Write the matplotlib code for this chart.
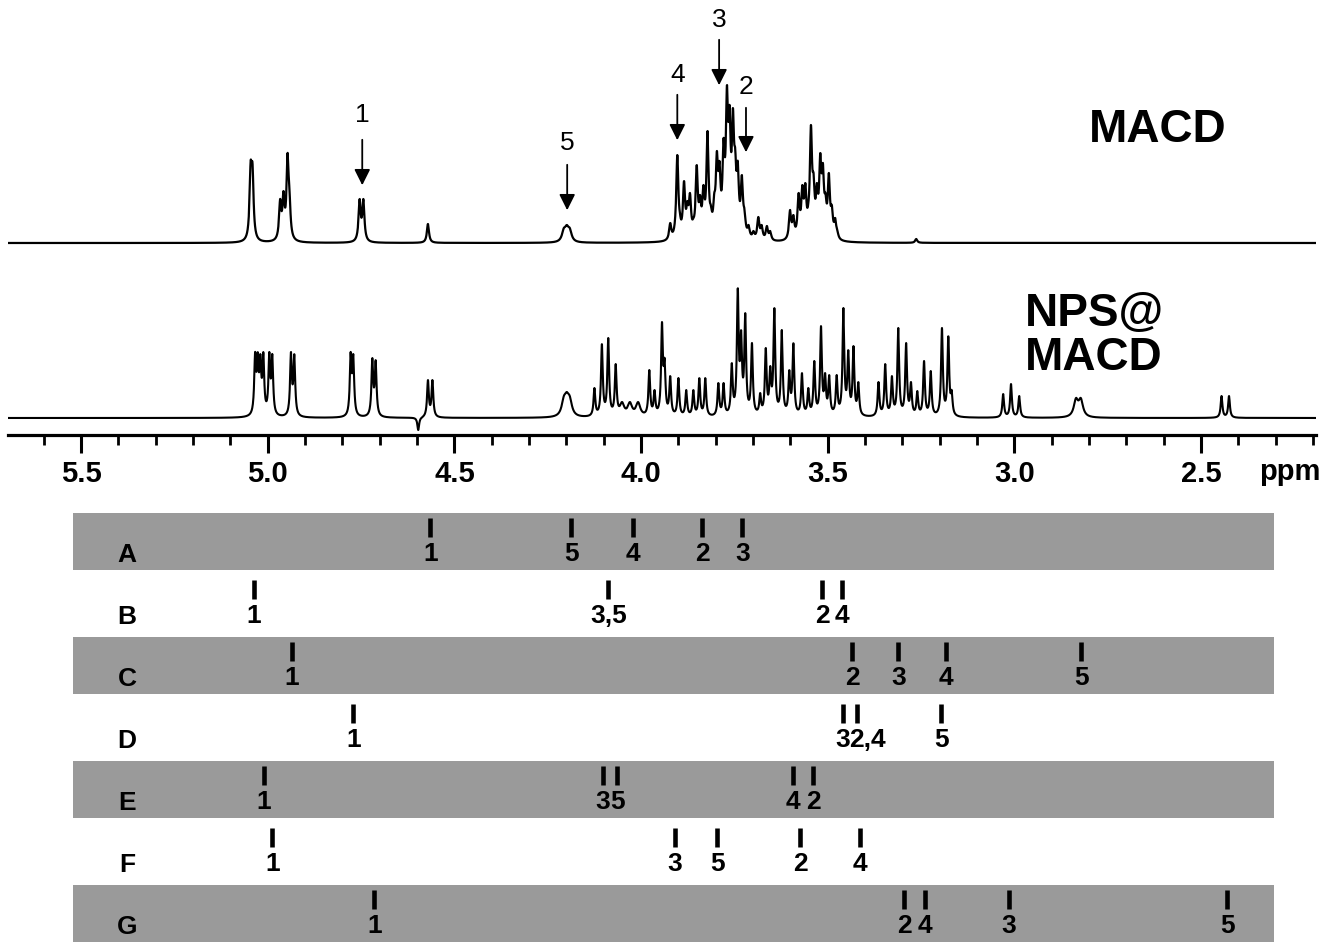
import numpy as np
import matplotlib.pyplot as plt
from matplotlib.ticker import MultipleLocator, FormatStrFormatter

plt.rcParams['font.family'] = ['Liberation Sans', 'DejaVu Sans']

# ---- 1H NMR peak lists (ppm, height in px) ----
macd_ppm = [5.046, 5.041, 4.967, 4.958, 4.947, 4.942, 4.754, 4.744, 4.571,
            3.922, 3.903, 3.896, 3.885, 3.876, 3.869, 3.860, 3.851, 3.842, 3.833,
            3.822, 3.813, 3.804, 3.797, 3.790, 3.779, 3.770, 3.763, 3.754, 3.748,
            3.741, 3.730, 3.723, 3.712, 3.699, 3.686, 3.677, 3.663, 3.654,
            3.601, 3.592, 3.578, 3.568, 3.560, 3.552, 3.545, 3.538, 3.529, 3.520,
            3.513, 3.506, 3.497, 3.489, 3.480, 3.474, 3.263]
macd_int = [82, 80, 44, 52, 90, 54, 44, 44, 19,
            20, 88, 30, 62, 42, 50, 25, 78, 48, 58,
            112, 38, 50, 92, 82, 105, 158, 138, 135, 95,
            82, 68, 34, 18, 12, 26, 18, 17, 12,
            33, 28, 50, 58, 60, 40, 118, 70, 60, 90,
            80, 50, 70, 38, 25, 12, 4]
macd_broad_ppm = [4.207, 4.199, 4.191]
macd_broad_int = [15, 18, 15]

nps_ppm = [5.034, 5.027, 5.020, 5.012, 4.996, 4.988, 4.938, 4.929, 4.778, 4.771,
           4.720, 4.711, 4.597, 4.571, 4.559,
           4.125, 4.105, 4.088, 4.068, 3.978, 3.964, 3.944, 3.937, 3.922, 3.900,
           3.879, 3.860, 3.844, 3.828, 3.793, 3.779, 3.757, 3.741, 3.732, 3.721,
           3.703, 3.681, 3.666, 3.654, 3.643, 3.623, 3.603, 3.592, 3.569, 3.552,
           3.536, 3.518, 3.507, 3.496, 3.476, 3.458, 3.445, 3.431, 3.418, 3.364,
           3.346, 3.328, 3.311, 3.290, 3.277, 3.260, 3.242, 3.224, 3.194, 3.177,
           3.168, 3.030, 3.009, 2.987, 2.445, 2.425]
nps_int = [66, 66, 64, 66, 66, 64, 66, 64, 66, 64,
           60, 58, -12, 38, 38,
           30, 74, 80, 54, 48, 28, 96, 60, 42, 40,
           28, 28, 40, 40, 35, 35, 55, 130, 88, 105,
           75, 25, 70, 52, 110, 88, 48, 75, 45, 30,
           57, 92, 45, 43, 43, 110, 68, 72, 36, 36,
           54, 42, 90, 75, 36, 27, 57, 47, 90, 82,
           28, 24, 34, 22, 22, 22]
nps_broad_ppm = [4.207, 4.199, 4.191, 4.051, 4.030, 4.008, 2.835, 2.822]
nps_broad_int = [22, 26, 22, 16, 16, 16, 20, 20]

# arrows on MACD spectrum
arrow_lab = ['1', '5', '4', '3', '2']
arrow_ppm = [4.747, 4.198, 3.903, 3.791, 3.719]

# ---- calculated shifts, rows A-G ----
row_names = ['A', 'B', 'C', 'D', 'E', 'F', 'G']
row_ppm = [[4.565, 4.187, 4.021, 3.836, 3.729],
           [5.037, 4.088, 3.515, 3.461],
           [4.935, 3.435, 3.311, 3.183, 2.821],
           [4.771, 3.459, 3.421, 3.196],
           [5.010, 4.102, 4.064, 3.593, 3.539],
           [4.988, 3.909, 3.796, 3.574, 3.413],
           [4.715, 3.295, 3.239, 3.014, 2.430]]
row_lab = [['1', '5', '4', '2', '3'],
           ['1', '3,5', '2', '4'],
           ['1', '2', '3', '4', '5'],
           ['1', '3', '2,4', '5'],
           ['1', '3', '5', '4', '2'],
           ['1', '3', '5', '2', '4'],
           ['1', '2', '4', '3', '5']]


def spectrum(x, ppm, h, hw, bppm, bh, bhw):
    # lorentzian lines, amplitudes solved so the tops match the read heights
    pos = np.array(list(ppm) + list(bppm))
    hh = np.array(list(h) + list(bh), dtype=float)
    ww = np.array([hw] * len(ppm) + [bhw] * len(bppm))
    A = 1.0 / (1.0 + ((pos[:, None] - pos[None, :]) / ww[None, :]) ** 2)
    amp = np.linalg.solve(A, hh)
    amp = np.where(hh > 0, np.clip(amp, 0.15 * hh, None), amp)
    y = np.zeros_like(x)
    for p, a, w in zip(pos, amp, ww):
        y += a / (1.0 + ((x - p) / w) ** 2)
    return y


fig = plt.figure(figsize=(13.32, 9.42), dpi=100)

xl = (5.696, 2.192)
ax = fig.add_axes([8 / 1332, 507 / 942, 1308 / 1332, 435 / 942])
x = np.linspace(2.19, 5.70, 9000)
y1 = spectrum(x, macd_ppm, macd_int, 0.0034, macd_broad_ppm, macd_broad_int, 0.006)
y2 = spectrum(x, nps_ppm, nps_int, 0.0028, nps_broad_ppm, nps_broad_int, 0.007)
ax.plot(x, 192 + y1, color='k', lw=1.6)
ax.plot(x, 17 + y2, color='k', lw=1.5)

# arrows (label y, arrow start, arrow tip in px above axis)
arr_y = [(320, 298, 247), (292, 273, 222), (360, 343, 292), (415, 398, 347), (348, 330, 280)]
for lab, p, (ty, ys, yt) in zip(arrow_lab, arrow_ppm, arr_y):
    ax.annotate('', xy=(p, yt), xytext=(p, ys),
                arrowprops=dict(arrowstyle='-|>', color='k', lw=1.3, mutation_scale=24))
    ax.text(p, ty, lab, ha='center', va='center', fontsize=19)

ax.set_xlim(xl)
ax.set_ylim(0, 435)
for s in ['top', 'left', 'right']:
    ax.spines[s].set_visible(False)
ax.spines['bottom'].set_linewidth(2.3)
ax.set_yticks([])
ax.xaxis.set_major_locator(MultipleLocator(0.5))
ax.xaxis.set_minor_locator(MultipleLocator(0.1))
ax.xaxis.set_major_formatter(FormatStrFormatter('%.1f'))
ax.tick_params(axis='x', which='major', length=13, width=2.2, pad=5, labelsize=21)
ax.tick_params(axis='x', which='minor', length=7, width=2.0)
for t in ax.get_xticklabels():
    t.set_fontweight('bold')

fig.text(1290 / 1332, 1 - 472 / 942, 'ppm', ha='center', va='center', fontsize=21, fontweight='bold')
fig.text(1158 / 1332, 1 - 130 / 942, 'MACD', ha='center', va='center', fontsize=33, fontweight='bold')
fig.text(1025 / 1332, 1 - 314 / 942, 'NPS@', ha='left', va='center', fontsize=33, fontweight='bold')
fig.text(1025 / 1332, 1 - 358 / 942, 'MACD', ha='left', va='center', fontsize=33, fontweight='bold')

# ---- lower panel ----
bx = fig.add_axes([8 / 1332, 0, 1308 / 1332, 429 / 942])
bx.set_xlim(xl)
bx.set_ylim(6.92, 0)
bx.axis('off')
band_l, band_r = 5.521, 2.304
for i, name in enumerate(row_names):
    if i % 2 == 0:
        bx.barh(i + 0.46, band_r - band_l, left=band_l, height=0.92, color='#9a9a9a', lw=0)
    bx.text((127 - 8) / 1308, i + 0.68, name, transform=bx.get_yaxis_transform(),
            ha='center', va='center', fontsize=19, fontweight='bold')
    bx.vlines(row_ppm[i], i + 0.08, i + 0.39, color='k', lw=3.3)
    for p, lab in zip(row_ppm[i], row_lab[i]):
        if lab == '2,4':
            bx.annotate(lab, (p, i + 0.66), xytext=(-5.5, 0), textcoords='offset points',
                        ha='left', va='center', fontsize=19, fontweight='bold')
        else:
            bx.text(p, i + 0.66, lab, ha='center', va='center', fontsize=19, fontweight='bold')

plt.savefig('out.png', dpi=100)
